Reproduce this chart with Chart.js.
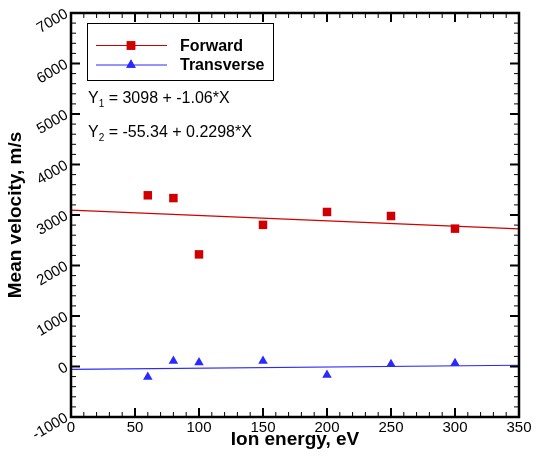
<!DOCTYPE html>
<html>
<head>
<meta charset="utf-8">
<script src="https://cdn.jsdelivr.net/npm/chart.js@4.4.0/dist/chart.umd.min.js"></script>
<style>
html, body { margin: 0; padding: 0; background: #fff; }
#wrap { width: 539px; height: 466px; }
</style>
</head>
<body>
<div id="wrap"><canvas id="velocityChart"></canvas></div>
<script>
// values
const ionEnergy = [60, 80, 100, 150, 200, 250, 300];
const forwardVelocity = [3390, 3335, 2220, 2805, 3060, 2980, 2730];
const transverseVelocity = [-210, 110, 80, 110, -170, 45, 65];

// fitted lines, end points at x = 0 and x = 350
const fitEnergy = [0, 350];
const forwardFit = [3098, 2727];
const transverseFit = [-55.34, 25.1];

const xTickValues = [0, 50, 100, 150, 200, 250, 300, 350];
const yTickValues = [-1000, 0, 1000, 2000, 3000, 4000, 5000, 6000, 7000];

const fitLabels = [
    { sub: "1", text: " = 3098 + -1.06*X" },
    { sub: "2", text: " = -55.34 + 0.2298*X" }
];

const red = "#d00000";
const blue = "#2a2aff";
const fontName = "'Liberation Sans', Arial, Helvetica, sans-serif";

function toPoints(xs, ys) {
    return xs.map((x, i) => ({ x: x, y: ys[i] }));
}

// frame, inward ticks, legend box and fit equations
const framePlugin = {
    id: "framePlugin",
    afterDatasetsDraw(chart) {
        const ctx = chart.ctx;
        const a = chart.chartArea;
        const xs = chart.scales.x;
        const ys = chart.scales.y;

        ctx.save();
        ctx.strokeStyle = "#000";

        // minor ticks
        ctx.lineWidth = 1;
        ctx.beginPath();
        for (let v = 0; v <= 350; v += 10) {
            const px = xs.getPixelForValue(v);
            ctx.moveTo(px, a.bottom); ctx.lineTo(px, a.bottom - 5);
            ctx.moveTo(px, a.top); ctx.lineTo(px, a.top + 5);
        }
        for (let v = -1000; v <= 7000; v += 200) {
            const py = ys.getPixelForValue(v);
            ctx.moveTo(a.left, py); ctx.lineTo(a.left + 5, py);
            ctx.moveTo(a.right, py); ctx.lineTo(a.right - 5, py);
        }
        ctx.stroke();

        // major ticks
        ctx.lineWidth = 2;
        ctx.beginPath();
        xTickValues.forEach(v => {
            const px = xs.getPixelForValue(v);
            ctx.moveTo(px, a.bottom); ctx.lineTo(px, a.bottom - 9);
            ctx.moveTo(px, a.top); ctx.lineTo(px, a.top + 9);
        });
        yTickValues.forEach(v => {
            const py = ys.getPixelForValue(v);
            ctx.moveTo(a.left, py); ctx.lineTo(a.left + 9, py);
            ctx.moveTo(a.right, py); ctx.lineTo(a.right - 9, py);
        });
        ctx.stroke();

        // frame
        ctx.lineWidth = 2.5;
        ctx.strokeRect(a.left, a.top, a.right - a.left, a.bottom - a.top);

        // legend
        ctx.lineWidth = 1;
        ctx.strokeRect(87.5, 23.5, 186, 57);
        const rows = [45.5, 65];
        [0, 1].forEach(i => {
            const ds = chart.data.datasets[i];
            ctx.strokeStyle = ds.borderColor;
            ctx.beginPath();
            ctx.moveTo(96, rows[i]);
            ctx.lineTo(167, rows[i]);
            ctx.stroke();
            ctx.fillStyle = ds.backgroundColor;
            Chart.helpers.drawPoint(ctx, {
                pointStyle: ds.pointStyle,
                radius: ds.pointRadius,
                rotation: 0,
                borderWidth: 0
            }, 131, rows[i]);
            ctx.fill();
            ctx.fillStyle = "#000";
            ctx.font = "bold 16px " + fontName;
            ctx.textBaseline = "middle";
            ctx.textAlign = "left";
            ctx.fillText(ds.label, 180, rows[i] + 1);
        });

        // fit equations
        const eqRows = [99, 133];
        fitLabels.forEach((f, i) => {
            let x = 88;
            ctx.fillStyle = "#000";
            ctx.textBaseline = "middle";
            ctx.font = "16px " + fontName;
            ctx.fillText("Y", x, eqRows[i]);
            x += ctx.measureText("Y").width;
            ctx.font = "10px " + fontName;
            ctx.fillText(f.sub, x, eqRows[i] + 5);
            x += ctx.measureText(f.sub).width;
            ctx.font = "16px " + fontName;
            ctx.fillText(f.text, x, eqRows[i]);
        });

        ctx.restore();
    }
};

const ctx = document.getElementById("velocityChart").getContext("2d");

new Chart(ctx, {
    type: "scatter",
    data: {
        datasets: [
            {
                label: "Forward",
                data: toPoints(ionEnergy, forwardVelocity),
                pointStyle: "rect",
                pointRadius: 6,
                pointHoverRadius: 6,
                backgroundColor: red,
                borderColor: red,
                borderWidth: 0
            },
            {
                label: "Transverse",
                data: toPoints(ionEnergy, transverseVelocity),
                pointStyle: "triangle",
                pointRadius: 5.5,
                pointHoverRadius: 5.5,
                backgroundColor: blue,
                borderColor: blue,
                borderWidth: 0
            },
            {
                type: "line",
                label: "Forward fit",
                data: toPoints(fitEnergy, forwardFit),
                borderColor: red,
                borderWidth: 1.2,
                pointRadius: 0,
                fill: false
            },
            {
                type: "line",
                label: "Transverse fit",
                data: toPoints(fitEnergy, transverseFit),
                borderColor: blue,
                borderWidth: 1.2,
                pointRadius: 0,
                fill: false
            }
        ]
    },
    options: {
        responsive: true,
        maintainAspectRatio: false,
        animation: false,
        layout: {
            padding: { top: 8, right: 20, bottom: 0, left: 0 }
        },
        plugins: {
            legend: { display: false },
            tooltip: { enabled: false }
        },
        scales: {
            x: {
                type: "linear",
                min: 0,
                max: 350,
                afterFit: scale => { scale.height = 49; },
                afterBuildTicks: scale => {
                    scale.ticks = xTickValues.map(v => ({ value: v }));
                },
                grid: { display: false, drawTicks: false },
                border: { display: false },
                ticks: {
                    color: "#000",
                    padding: 2,
                    maxRotation: 0,
                    callback: value => String(value),
                    font: { family: fontName, size: 15 }
                },
                title: {
                    display: true,
                    text: "Ion energy, eV",
                    color: "#000",
                    font: { family: fontName, size: 19, weight: "bold" },
                    padding: { top: 0, bottom: 15 }
                }
            },
            y: {
                type: "linear",
                min: -1000,
                max: 7000,
                afterFit: scale => { scale.width = 71; },
                afterBuildTicks: scale => {
                    scale.ticks = yTickValues.map(v => ({ value: v }));
                },
                grid: { display: false, drawTicks: false },
                border: { display: false },
                ticks: {
                    color: "#000",
                    padding: 4,
                    minRotation: 30,
                    maxRotation: 30,
                    callback: value => String(value),
                    font: { family: fontName, size: 15 }
                },
                title: {
                    display: true,
                    text: "Mean velocity, m/s",
                    color: "#000",
                    font: { family: fontName, size: 19, weight: "bold" },
                    padding: { top: 4, bottom: 0 }
                }
            }
        }
    },
    plugins: [framePlugin]
});
</script>
</body>
</html>
